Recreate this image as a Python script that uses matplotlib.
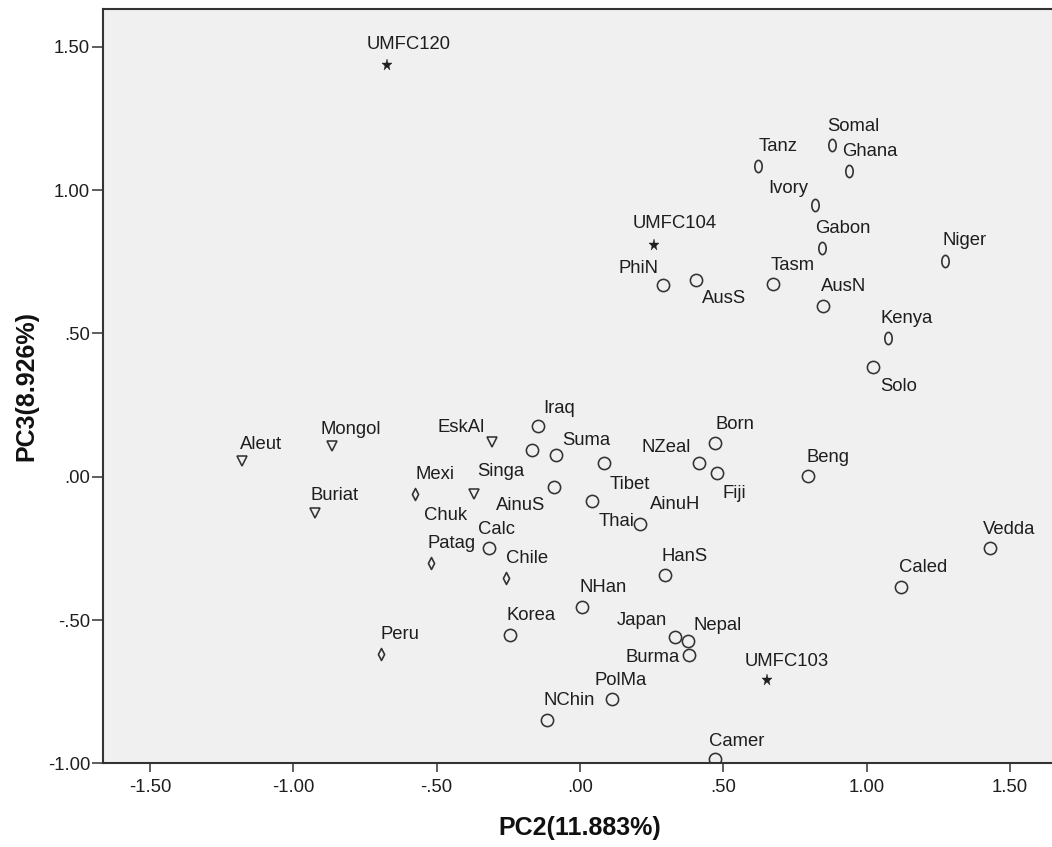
import matplotlib
matplotlib.use("Agg")
import matplotlib.pyplot as plt
from matplotlib.path import Path
from matplotlib.markers import MarkerStyle
from matplotlib.transforms import Affine2D

# PCA scores (PC2 vs PC3) per population sample
names = ["UMFC120", "UMFC104", "UMFC103",
         "Somal", "Tanz", "Ghana", "Ivory", "Gabon", "Niger", "Kenya",
         "PhiN", "AusS", "Tasm", "AusN", "Solo",
         "Iraq", "Singa", "Suma", "AinuS", "Tibet", "AinuH", "Thai",
         "NZeal", "Born", "Fiji", "Beng", "Calc", "HanS", "NHan",
         "Korea", "Japan", "Nepal", "Burma", "PolMa", "NChin", "Camer",
         "Caled", "Vedda",
         "Aleut", "Mongol", "Buriat", "EskAl", "Chuk",
         "Mexi", "Patag", "Chile", "Peru"]
pc2 = [-0.672, 0.259, 0.651,
       0.880, 0.622, 0.938, 0.820, 0.844, 1.273, 1.074,
       0.291, 0.404, 0.674, 0.846, 1.021,
       -0.145, -0.169, -0.084, -0.090, 0.083, 0.043, 0.210,
       0.414, 0.471, 0.478, 0.796, -0.319, 0.295, 0.008,
       -0.243, 0.331, 0.376, 0.380, 0.113, -0.115, 0.470,
       1.121, 1.430,
       -1.180, -0.866, -0.924, -0.307, -0.370,
       -0.577, -0.519, -0.258, -0.695]
pc3 = [1.436, 0.808, -0.709,
       1.157, 1.084, 1.066, 0.948, 0.799, 0.753, 0.485,
       0.669, 0.686, 0.671, 0.597, 0.384,
       0.177, 0.093, 0.076, -0.035, 0.047, -0.086, -0.166,
       0.047, 0.116, 0.013, 0.001, -0.248, -0.342, -0.456,
       -0.551, -0.558, -0.573, -0.622, -0.777, -0.849, -0.986,
       -0.384, -0.250,
       0.056, 0.107, -0.126, 0.120, -0.061,
       -0.060, -0.302, -0.352, -0.618]
group = ["fossil"] * 3 + ["africa"] * 7 + ["asia"] * 28 + ["north"] * 5 + ["america"] * 4

# label placement: offset of text left/baseline from the marker, in pixels
label_offset = {
    "UMFC120": (-21, 16), "UMFC104": (-22, 17), "UMFC103": (-22, 14),
    "Somal": (-5, 14), "Tanz": (0, 15), "Ghana": (-7, 15), "Ivory": (-47, 12),
    "Gabon": (-7, 15), "Niger": (-2, 16), "Kenya": (-7, 15),
    "PhiN": (-45, 12), "AusS": (6, -23), "Tasm": (-3, 14), "AusN": (-2, 15),
    "Solo": (7, -24),
    "Iraq": (5, 13), "Singa": (-54, -26), "Suma": (6, 10), "AinuS": (-58, -23),
    "Tibet": (6, -26), "AinuH": (58, -8), "Thai": (-42, -2),
    "NZeal": (-57, 11), "Born": (0, 14), "Fiji": (5, -25), "Beng": (-2, 14),
    "Calc": (-11, 14), "HanS": (-3, 14), "NHan": (-3, 15),
    "Korea": (-4, 15), "Japan": (-58, 12), "Nepal": (6, 11), "Burma": (-63, -7),
    "PolMa": (-18, 14), "NChin": (-4, 15), "Camer": (-6, 13),
    "Caled": (-2, 15), "Vedda": (-7, 14),
    "Aleut": (-2, 12), "Mongol": (-11, 12), "Buriat": (-5, 13),
    "EskAl": (-54, 10), "Chuk": (-50, -26),
    "Mexi": (1, 15), "Patag": (-4, 15), "Chile": (0, 15), "Peru": (0, 15),
}

EDGE = "#333333"
TEXT = "#1e1e1e"

ellipse = MarkerStyle(Path.unit_circle().transformed(Affine2D().scale(0.6, 1.0)))
diamond = MarkerStyle(Path([(0, 1), (0.52, 0), (0, -1), (-0.52, 0), (0, 1)],
                           [Path.MOVETO, Path.LINETO, Path.LINETO, Path.LINETO,
                            Path.CLOSEPOLY]))
styles = {
    "asia":    dict(marker="o", ms=8.8, mfc="none", mec=EDGE, mew=1.15),
    "africa":  dict(marker=ellipse, ms=8.8, mfc="none", mec=EDGE, mew=1.2),
    "north":   dict(marker="v", ms=7.2, mfc="none", mec=EDGE, mew=1.15),
    "america": dict(marker=diamond, ms=8.6, mfc="none", mec=EDGE, mew=1.2),
    "fossil":  dict(marker="*", ms=8.2, mfc="#202020", mec="#202020", mew=0.3),
}

plt.rcParams["font.family"] = ["Liberation Sans", "DejaVu Sans"]

W, H = 1052, 847
fig = plt.figure(figsize=(W / 100, H / 100), dpi=100)
fig.patch.set_facecolor("white")

ax_left, ax_right, ax_top, ax_bottom = 102.7, 1052.0, 9.0, 763.4
ax = fig.add_axes([ax_left / W, (H - ax_bottom) / H,
                   (ax_right - ax_left) / W, (ax_bottom - ax_top) / H])
ax.set_facecolor("#f0f0f0")

for g, st in styles.items():
    xs = [x for x, gg in zip(pc2, group) if gg == g]
    ys = [y for y, gg in zip(pc3, group) if gg == g]
    ax.plot(xs, ys, linestyle="none", **st)

for n, x, y in zip(names, pc2, pc3):
    dx, dy = label_offset[n]
    ax.annotate(n, (x, y), xytext=(dx, dy), textcoords="offset pixels",
                ha="left", va="baseline", fontsize=13.3, color=TEXT)

# axis scaling: 286.7 px per unit, origin at (580, 476.7) px
ax.set_xlim((ax_left - 580) / 286.7, (ax_right - 580) / 286.7)
ax.set_ylim(-1.0, (476.7 - ax_top) / 286.7)

xt = [-1.5, -1.0, -0.5, 0.0, 0.5, 1.0, 1.5]
yt = [-1.0, -0.5, 0.0, 0.5, 1.0, 1.5]


def spss_fmt(v):
    s = f"{v:.2f}"
    return s.replace("0.", ".") if abs(v) < 1 else s


ax.set_xticks(xt)
ax.set_xticklabels([spss_fmt(v) for v in xt])
ax.set_yticks(yt)
ax.set_yticklabels([spss_fmt(v) for v in yt])
ax.tick_params(axis="x", length=6.5, width=1.1, color=EDGE, pad=5,
               labelsize=13.3, labelcolor=TEXT)
ax.tick_params(axis="y", length=8, width=1.1, color=EDGE, pad=1,
               labelsize=13.3, labelcolor=TEXT)

for side in ("left", "bottom", "top"):
    ax.spines[side].set_color(EDGE)
    ax.spines[side].set_linewidth(1.5)
ax.spines["right"].set_visible(False)

ax.set_xlabel("PC2(11.883%)", fontsize=18, fontweight="bold", color="#111111")
ax.xaxis.set_label_coords(0.503, -0.070)
ax.set_ylabel("PC3(8.926%)", fontsize=18, fontweight="bold", color="#111111")
ax.yaxis.set_label_coords(-0.068, 0.5)

fig.savefig("out.png", dpi=100)
